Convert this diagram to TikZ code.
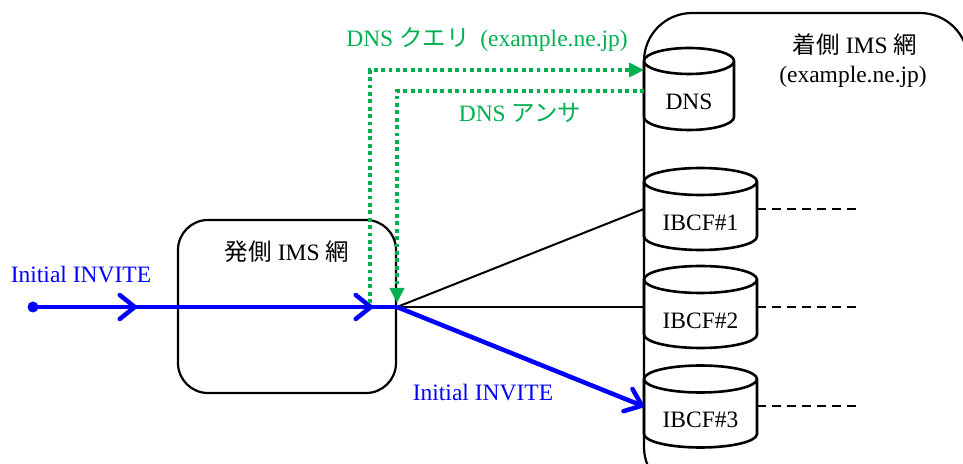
\documentclass[tikz,border=0pt]{standalone}
\usepackage{fontspec}
\setmainfont{Liberation Serif}
\newfontfamily\jp{Noto Sans CJK JP}
\usetikzlibrary{arrows.meta,decorations.markings}
\definecolor{dnsgreen}{RGB}{0,176,80}
\definecolor{sipblue}{RGB}{0,0,255}

% drum-shaped server: name, centre x, centre y, width, height, cap radius, label
\newcommand{\drum}[7]{%
  \node[drumnode, minimum width=#4pt, minimum height=#5pt] (#1) at (#2,#3) {};
  \draw[drumline] ([yshift=-#6pt]#1.north west) -- ([yshift=#6pt]#1.south west)
    arc[start angle=180, end angle=360, x radius=#4pt/2, y radius=#6pt]
    -- ([yshift=-#6pt]#1.north east)
    arc[start angle=0, end angle=180, x radius=#4pt/2, y radius=#6pt]
    arc[start angle=180, end angle=360, x radius=#4pt/2, y radius=#6pt];
  \node (#1-text) at ([yshift=-#6pt]#1.center) {#7};
}

\begin{document}
\begin{tikzpicture}[x=1pt,y=1pt,
  every node/.style={font=\fontsize{23.5pt}{28pt}\selectfont, inner sep=0pt},
  netbox/.style={draw, line width=2.2pt},
  drumnode/.style={inner sep=0pt, outer sep=0pt},
  drumline/.style={line width=2.6pt},
  link/.style={line width=2pt},
  sip/.style={sipblue, line width=4.5pt},
  sipmsg/.style={sipblue},
  barb/.style={-{Straight Barb[length=15pt,width=24pt,round]}},
  dnsmsg/.style={dnsgreen, line width=3.8pt, dash pattern=on 3.8pt off 3.6pt,
    -{Triangle[length=15pt,width=14pt]}},
  dnstext/.style={dnsgreen},
  idle/.style={line width=2pt, dash pattern=on 9pt off 6pt},
]
\useasboundingbox (0,0) rectangle (963,463);

% terminating IMS network (runs off the right and bottom edges)
\begin{scope}
  \clip (0,0) rectangle (963,463);
  \node[netbox, rounded corners=48pt, minimum width=324pt, minimum height=482pt] (term) at (806,209) {};
\end{scope}
\node (termname) at (855,418) {{\jp 着側} IMS {\jp 網}};
\node (termdomain) at (853,386) {(example.ne.jp)};

% originating IMS network
\node[netbox, rounded corners=30pt, minimum width=218pt, minimum height=173pt] (orig) at (287,156.5) {};
\node (origname) at (287,211) {{\jp 発側} IMS {\jp 網}};

% servers in the terminating network
\drum{dns}{689}{374}{90}{82}{13}{DNS}
\drum{ibcf1}{700.5}{254}{113}{82}{13.5}{IBCF\#1}
\drum{ibcf2}{700.5}{156}{113}{82}{13.5}{IBCF\#2}
\drum{ibcf3}{700.5}{56.5}{113}{82}{13.5}{IBCF\#3}

% onward links of the IBCFs
\coordinate (outx) at (857,0);
\draw[idle] (ibcf1.east) -- (ibcf1.east -| outx);
\draw[idle] (ibcf2.east) -- (ibcf2.east -| outx);
\draw[idle] (ibcf3.east) -- (ibcf3.east -| outx);

% candidate routes from the originating network
\coordinate (src) at (33,156);
\coordinate (branch) at (397,156);
\draw[link] (branch) -- (ibcf1.west);
\draw[link] (branch) -- (ibcf2.west);

% Initial INVITE route
\fill[sipblue] (src) circle (5.5pt);
\draw[sip, postaction={decorate}, decoration={markings,
    mark=at position 104pt with {\arrow{Straight Barb[length=15pt,width=24pt,round]}},
    mark=at position 340pt with {\arrow{Straight Barb[length=15pt,width=24pt,round]}}}]
  (src) -- (branch);
\draw[sip, barb] (branch) -- (ibcf3.west);
\node[sipmsg] (invite1) at (81,188) {Initial INVITE};
\node[sipmsg] (invite2) at (483,70) {Initial INVITE};

% DNS query and answer
\coordinate (qstart) at (370,160);
\coordinate (aend) at (397,160);
\draw[dnsmsg] (qstart) |- ([yshift=19pt]dns.west);
\draw[dnsmsg] ([yshift=-2pt]dns.west) -| (aend);
\node[dnstext] (query) at (487,423) {DNS {\jp クエリ}\hspace{0.45em}(example.ne.jp)};
\node[dnstext] (answer) at (520,350) {DNS {\jp アンサ}};
\end{tikzpicture}
\end{document}
